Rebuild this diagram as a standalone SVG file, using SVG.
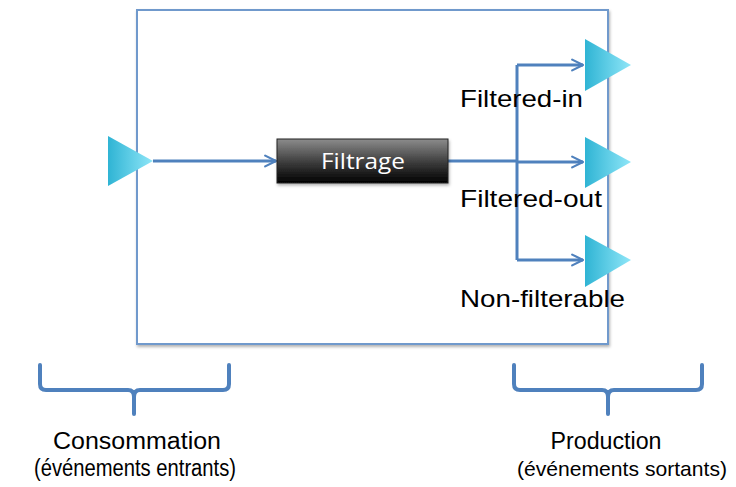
<svg xmlns="http://www.w3.org/2000/svg" width="736" height="487" viewBox="0 0 736 487">
<style>
.conn{fill:none;stroke:#4f81bd;stroke-width:3}
.brace{fill:none;stroke:#4f81bd;stroke-width:4;stroke-linejoin:round;stroke-linecap:round}
.port{fill:url(#tri)}
.lbl{font-family:"Liberation Sans",Arial,sans-serif;font-size:24px;fill:#000}
.cap{font-family:"Liberation Sans",Arial,sans-serif;font-size:23px;fill:#000;text-anchor:middle}
.cap2{font-family:"Liberation Sans",Arial,sans-serif;font-size:21px;fill:#000;text-anchor:middle}
</style>
<defs>
<linearGradient id="tri" x1="0" y1="0" x2="1" y2="0">
<stop offset="0" stop-color="#2fb4d4"/>
<stop offset="1" stop-color="#8fe6f8"/>
</linearGradient>
<linearGradient id="blk" x1="0" y1="0" x2="0" y2="1">
<stop offset="0" stop-color="#8c8c8c"/>
<stop offset="0.55" stop-color="#3a3a3a"/>
<stop offset="1" stop-color="#000"/>
</linearGradient>
<marker id="arr" viewBox="0 0 10 10" refX="9" refY="5" markerWidth="4.5" markerHeight="4.5" orient="auto" markerUnits="strokeWidth">
<path d="M1,1 L9,5 L1,9" fill="none" stroke="#4f81bd" stroke-width="1.6" stroke-linecap="round" stroke-linejoin="round"/>
</marker>
<filter id="sh" x="-10%" y="-10%" width="130%" height="140%">
<feDropShadow dx="1" dy="2" stdDeviation="1.5" flood-color="#000" flood-opacity="0.3"/>
</filter>
</defs>
<g id="frame">
<rect x="137" y="10" width="471" height="334" fill="#fff" stroke="#7099cc" stroke-width="2" filter="url(#sh)"/>
</g>
<g id="connectors">
<path class="conn" d="M153,161 H276" marker-end="url(#arr)"/>
<path class="conn" d="M448,161 H517"/>
<path class="conn" d="M517,65 V260"/>
<path class="conn" d="M517,65 H583" marker-end="url(#arr)"/>
<path class="conn" d="M517,162 H583" marker-end="url(#arr)"/>
<path class="conn" d="M517,260 H583" marker-end="url(#arr)"/>
</g>
<g id="input-port"><polygon class="port" points="108,136 108,186 153,161"/></g>
<g id="filtrage">
<rect x="277" y="139" width="171" height="44" fill="url(#blk)" stroke="#222" stroke-width="1" filter="url(#sh)"/>
<text x="363" y="169" font-family="'Open Sans','Noto Sans',sans-serif" font-size="22" fill="#fff" text-anchor="middle" textLength="84" lengthAdjust="spacingAndGlyphs">Filtrage</text>
</g>
<g id="out-in"><polygon class="port" points="585,39 585,91 631,65"/></g>
<g id="out-out"><polygon class="port" points="585,137 585,188 631,162"/></g>
<g id="out-nf"><polygon class="port" points="585,235 585,287 631,260"/></g>
<g id="labels">
<text class="lbl" x="460" y="107" textLength="123" lengthAdjust="spacingAndGlyphs">Filtered-in</text>
<text class="lbl" x="460" y="207" textLength="142" lengthAdjust="spacingAndGlyphs">Filtered-out</text>
<text class="lbl" x="460" y="307" textLength="165" lengthAdjust="spacingAndGlyphs">Non-filterable</text>
</g>
<g id="brace-left">
<path class="brace" d="M40,365 V384 Q40,390 46,390 H128 Q134,390 134,397 V414 M134,397 Q134,390 140,390 H223 Q229,390 229,384 V365"/>
<text class="cap" x="137" y="449" textLength="168" lengthAdjust="spacingAndGlyphs">Consommation</text>
<text class="cap" x="135" y="476" textLength="202" lengthAdjust="spacingAndGlyphs">(événements entrants)</text>
</g>
<g id="brace-right">
<path class="brace" d="M514,365 V384 Q514,390 520,390 H602 Q608,390 608,397 V414 M608,397 Q608,390 614,390 H696 Q702,390 702,384 V365"/>
<text class="cap" x="606" y="449" textLength="111" lengthAdjust="spacingAndGlyphs">Production</text>
<text class="cap2" x="622" y="476" textLength="210" lengthAdjust="spacingAndGlyphs">(événements sortants)</text>
</g>
</svg>
